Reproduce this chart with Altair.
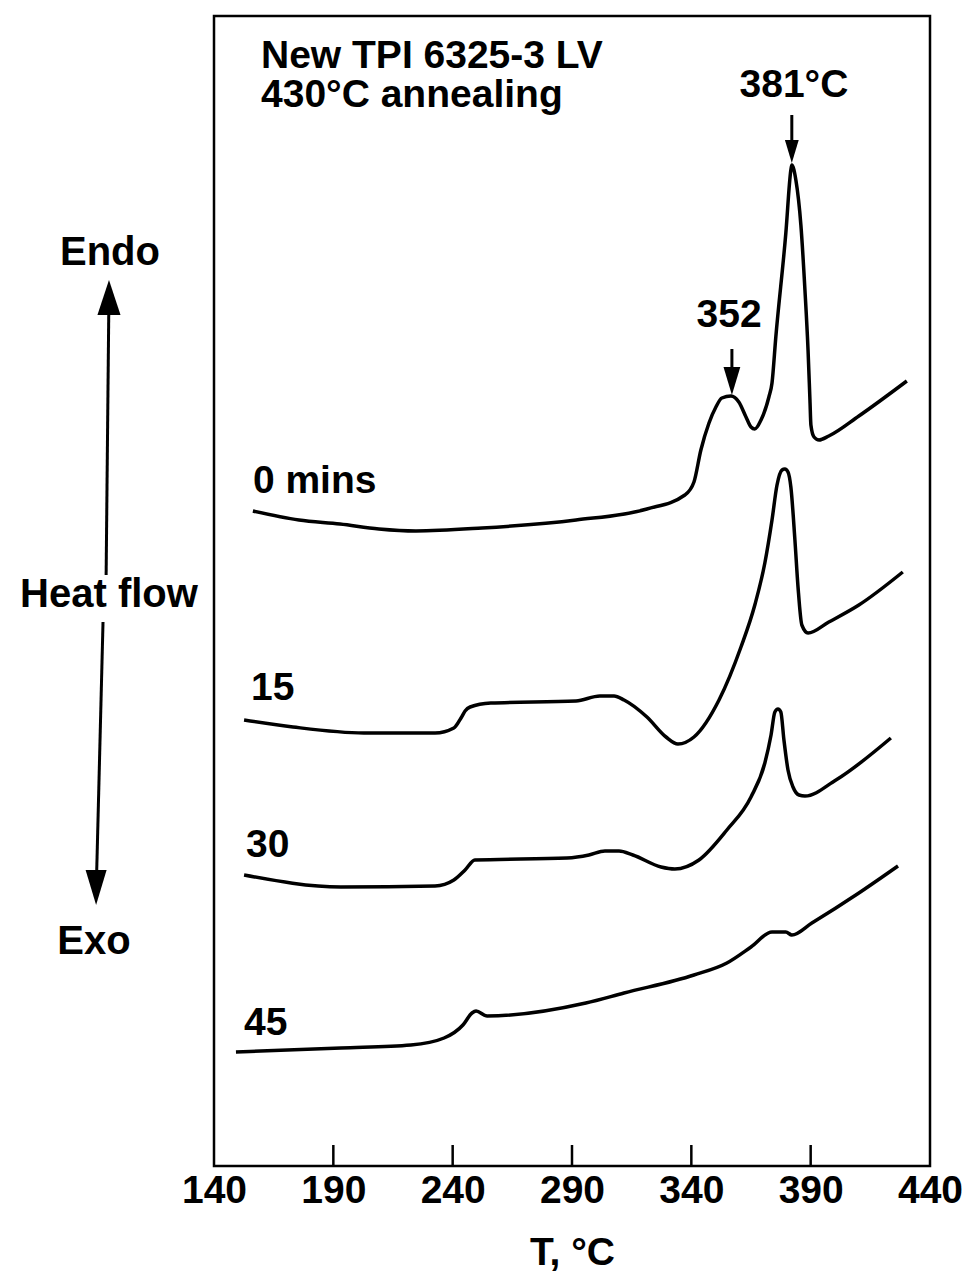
import altair as alt
import pandas as pd

FONT = "Liberation Sans, Arial, Helvetica, sans-serif"

# x axis tick labels (temperature, deg C)
x_ticks = [140, 190, 240, 290, 340, 390, 440]
inner_ticks = [190, 240, 290, 340, 390]

# DSC traces: temperature (deg C) and heat flow (arbitrary units, endo up)
t0 = [156.3, 175.6, 192.8, 209.1, 224.6, 252.3, 291.7, 321.4, 337.3, 341.1, 344.0, 347.4,
      350.3, 352.8, 356.6, 359.9, 362.9, 365.0, 366.6, 369.2, 372.5, 373.8, 375.4, 379.6,
      381.7, 382.1, 383.8, 385.9, 387.6, 388.9, 389.7, 390.1, 391.4, 393.5, 397.6, 410.2, 430.3]
h0 = [649, 640, 636, 631, 629, 632, 640, 651, 665, 678, 710, 737,
      753, 762, 764, 758, 743, 733, 731, 740, 763, 777, 823, 927,
      990, 995, 980, 935, 870, 810, 760, 735, 723, 720, 724, 744, 779]

t15 = [152.6, 173.1, 202.8, 232.6, 240.5, 243.5, 245.2, 247.3, 256.0, 291.7, 301.7, 307.6,
       311.8, 321.4, 329.4, 334.4, 341.1, 351.6, 360.8, 366.6, 370.8, 373.8, 375.9, 378.0,
       379.2, 380.5, 381.7, 383.4, 384.7, 386.3, 388.9, 397.6, 410.2, 428.6]
h15 = [440, 433, 427, 427, 432, 442, 449, 453, 457, 459, 464, 464,
       460, 443, 423, 416, 423, 460, 513, 555, 597, 640, 675, 690,
       691, 688, 673, 620, 573, 535, 527, 538, 555, 588]

t30 = [152.6, 193.2, 232.6, 240.5, 245.2, 249.3, 287.9, 297.1, 303.8, 309.7, 315.5, 327.3,
       333.1, 343.2, 354.9, 365.0, 370.8, 373.4, 375.0, 376.3, 377.5, 378.8, 380.5, 382.6,
       385.1, 387.6, 400.6, 423.6]
h30 = [285, 273, 274, 280, 290, 300, 302, 305, 309, 309, 305, 293,
       291, 300, 330, 363, 397, 425, 448, 451, 448, 420, 390, 373,
       365, 364, 380, 422]

t45 = [149.2, 193.2, 222.5, 236.4, 244.3, 248.1, 249.8, 254.4, 295.8, 311.8, 341.1, 354.9,
       365.0, 373.8, 379.6, 382.1, 390.5, 410.2, 426.6]
h45 = [108, 112, 115, 122, 135, 147, 149, 144, 157, 167, 185, 197,
       213, 228, 228, 225, 237, 267, 294]

curve_names = ["0 mins", "15", "30", "45"]

# annotation texts
left_texts = ["New TPI 6325-3 LV", "430°C annealing", "0 mins", "15", "30", "45"]
left_T = [159.7, 159.7, 156.3, 155.5, 153.4, 152.6]
left_H = [1092, 1053, 667, 460, 303, 125]

center_texts = ["381°C", "352", "Endo", "Heat flow", "Exo"]
center_T = [383.0, 355.8, 96.4, 96.0, 89.7]
center_H = [1063, 833, 895, 553, 206]
center_fs = [39, 39, 40, 40, 40]

# arrows: shaft start/end, head tip
shaft_T = [382.1, 357.0, 94.8, 93.5]
shaft_H = [1045, 811, 585, 538]
shaft_T2 = [382.1, 357.0, 96.0, 90.6]
shaft_H2 = [1005, 775, 870, 265]

down_T = [382.1, 357.0, 90.6]
down_H = [997, 765, 255]
down_size = [2116, 3136, 4900]

up_T = [96.0]
up_H = [880]
up_size = [4900]

# ---------------------------------------------------------------
rows = []
for name, ts, hs in zip(curve_names, [t0, t15, t30, t45], [h0, h15, h30, h45]):
    for t, h in zip(ts, hs):
        rows.append({"curve": name, "T": t, "H": h})
df = pd.DataFrame(rows)

xs = alt.Scale(domain=[140, 440], nice=False, zero=False)
ys = alt.Scale(domain=[-6, 1144], nice=False, zero=False)

lines = alt.Chart(df).mark_line(
    color="black", strokeWidth=3.5, interpolate="monotone"
).encode(
    x=alt.X("T:Q", scale=xs,
            axis=alt.Axis(values=x_ticks, title="T, °C", grid=False, ticks=False,
                          tickSize=0, domain=False, labelPadding=5, labelFlush=False,
                          labelFont=FONT, labelFontSize=39, labelFontWeight="bold",
                          labelColor="black", titleFont=FONT, titleFontSize=39,
                          titleFontWeight="bold", titleColor="black", titlePadding=23,
                          format="d")),
    y=alt.Y("H:Q", scale=ys, axis=None),
    detail="curve:N",
)

ticks_df = pd.DataFrame({"T": inner_ticks, "H": [-6] * 5, "H2": [15] * 5})
ticks = alt.Chart(ticks_df).mark_rule(color="black", strokeWidth=2.5).encode(
    x=alt.X("T:Q", scale=xs), y=alt.Y("H:Q", scale=ys), y2="H2:Q"
)

left_df = pd.DataFrame({"text": left_texts, "T": left_T, "H": left_H})
left_lbl = alt.Chart(left_df).mark_text(
    align="left", baseline="alphabetic", font=FONT, fontSize=39, fontWeight="bold", color="black"
).encode(x=alt.X("T:Q", scale=xs), y=alt.Y("H:Q", scale=ys), text="text:N")

center_df = pd.DataFrame({"text": center_texts, "T": center_T, "H": center_H, "fs": center_fs})
center_lbl = alt.Chart(center_df).mark_text(
    align="center", baseline="alphabetic", font=FONT, fontWeight="bold", color="black"
).encode(x=alt.X("T:Q", scale=xs), y=alt.Y("H:Q", scale=ys), text="text:N",
         size=alt.Size("fs:Q", scale=None, legend=None))

shaft_df = pd.DataFrame({"T": shaft_T, "H": shaft_H, "T2": shaft_T2, "H2": shaft_H2})
shafts = alt.Chart(shaft_df).mark_rule(color="black", strokeWidth=3).encode(
    x=alt.X("T:Q", scale=xs), y=alt.Y("H:Q", scale=ys), x2="T2:Q", y2="H2:Q"
)

down_df = pd.DataFrame({"T": down_T, "H": down_H, "s": down_size})
down_heads = alt.Chart(down_df).mark_point(
    shape="M-0.3,-1L0.3,-1L0,0Z", filled=True, color="black", opacity=1, strokeWidth=0
).encode(x=alt.X("T:Q", scale=xs), y=alt.Y("H:Q", scale=ys),
         size=alt.Size("s:Q", scale=None, legend=None))

up_df = pd.DataFrame({"T": up_T, "H": up_H, "s": up_size})
up_heads = alt.Chart(up_df).mark_point(
    shape="M-0.33,1L0.33,1L0,0Z", filled=True, color="black", opacity=1, strokeWidth=0
).encode(x=alt.X("T:Q", scale=xs), y=alt.Y("H:Q", scale=ys),
         size=alt.Size("s:Q", scale=None, legend=None))

chart = alt.layer(
    lines, ticks, left_lbl, center_lbl, shafts, down_heads, up_heads
).properties(
    width=716, height=1150,
    padding={"left": 206, "top": 8, "right": 33, "bottom": 107},
    autosize=alt.AutoSizeParams(type="none"),
    background="white",
).configure_view(
    stroke="black", strokeWidth=2.5
)

chart.save("out.html", embed_options={"renderer": "svg", "actions": False})
